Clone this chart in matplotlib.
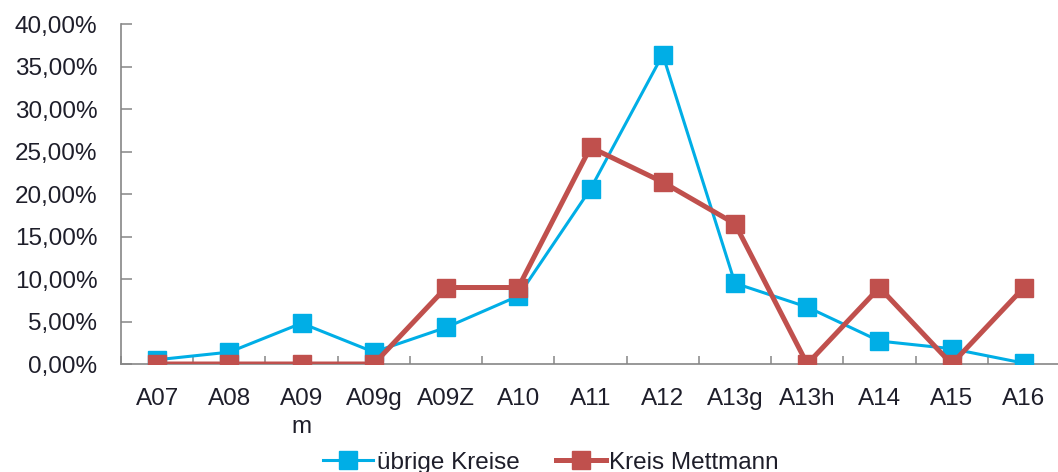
import matplotlib.pyplot as plt
from matplotlib.ticker import FixedLocator, FuncFormatter

# Kategorien und Anteile (in Prozent)
categories = ["A07", "A08", "A09\nm", "A09g", "A09Z", "A10", "A11",
              "A12", "A13g", "A13h", "A14", "A15", "A16"]
uebrige_kreise = [0.5, 1.4, 4.8, 1.4, 4.3, 8.0, 20.6,
                  36.4, 9.5, 6.7, 2.7, 1.8, 0.1]
kreis_mettmann = [0.0, 0.0, 0.0, 0.0, 9.0, 9.0, 25.5,
                  21.4, 16.5, 0.0, 9.0, 0.0, 9.0]
y_ticks = [0, 5, 10, 15, 20, 25, 30, 35, 40]

BLUE = "#00AEE6"
RED = "#C0504D"
TEXT = "#1E1E2A"
AXIS = "#868686"
FS = 17.5

plt.rcParams["font.family"] = ["Liberation Sans", "DejaVu Sans"]

fig = plt.figure(figsize=(10.58, 4.72), dpi=100)
ax = fig.add_axes([0.1144, 0.2288, 0.8875, 0.7203])

x = list(range(len(categories)))
ax.plot(x, uebrige_kreise, color=BLUE, linewidth=2.2, marker="s",
        markersize=13, label="übrige Kreise", zorder=3)
ax.plot(x, kreis_mettmann, color=RED, linewidth=3.6, marker="s",
        markersize=13.5, label="Kreis Mettmann", zorder=4)

ax.set_xlim(-0.5, len(categories) - 0.5)
ax.set_ylim(0, 40)

# Achsen im Excel-Stil
for side in ("top", "right"):
    ax.spines[side].set_visible(False)
for side in ("left", "bottom"):
    ax.spines[side].set_color(AXIS)
    ax.spines[side].set_linewidth(1.2)
    ax.spines[side].set_clip_on(False)

ax.set_xticks(x)
ax.set_xticklabels(categories, fontsize=FS, color=TEXT, linespacing=1.35)
ax.xaxis.set_minor_locator(FixedLocator([i + 0.5 for i in range(-1, len(categories))]))
ax.tick_params(axis="x", which="major", length=0, pad=17.5)
ax.tick_params(axis="x", which="minor", direction="in", length=6,
               width=1.1, color=AXIS)

ax.set_yticks(y_ticks)
ax.yaxis.set_major_formatter(FuncFormatter(lambda v, _: f"{v:.2f}%".replace(".", ",")))
ax.tick_params(axis="y", direction="in", length=8, width=1.1, color=AXIS,
               labelsize=FS, labelcolor=TEXT, pad=17)

leg = fig.legend(loc="center", bbox_to_anchor=(0.521, 0.02), ncol=2,
                 frameon=False, fontsize=FS, handlelength=2.05,
                 handletextpad=0.15, columnspacing=1.5)
for txt in leg.get_texts():
    txt.set_color(TEXT)

fig.savefig("out.png", dpi=100)
